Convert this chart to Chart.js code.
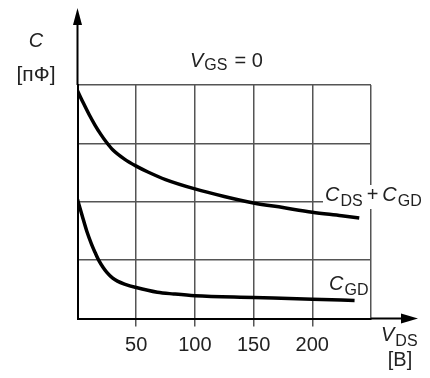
<!DOCTYPE html>
<html>
<head>
<meta charset="utf-8">
<script src="https://cdn.jsdelivr.net/npm/chart.js@4.4.0/dist/chart.umd.min.js"></script>
<style>
  html, body { margin: 0; padding: 0; background: #fff; }
  #wrap { width: 430px; height: 378px; }
</style>
</head>
<body>
<div id="wrap"><canvas id="chart" width="430" height="378"></canvas></div>
<script>
// V_DS, volts (upper curve: C_DS + C_GD)
const vdsTotal = [0, 5, 10, 15, 20, 25, 30, 40, 50, 60, 75, 100, 125, 150, 175, 200, 225, 240]
const cTotal = [3.90, 3.69, 3.49, 3.31, 3.15, 3.01, 2.89, 2.73, 2.61, 2.51, 2.38, 2.22, 2.09, 1.98, 1.90, 1.82, 1.76, 1.72]

// lower curve: C_GD
const vdsGd = [0, 4, 8, 12, 15, 18, 22, 25, 30, 34, 40, 50, 68, 82, 100, 150, 200, 236]
const cGd = [2.04, 1.76, 1.49, 1.27, 1.13, 1.00, 0.87, 0.79, 0.69, 0.64, 0.59, 0.53, 0.45, 0.42, 0.39, 0.36, 0.33, 0.31]

const xTicks = [50, 100, 150, 200]

const toPoints = (xs, ys) => xs.map((x, i) => ({ x, y: ys[i] }))

const GRID = '#555'
const TEXT = '#222'
const FONT = '"Liberation Sans", Arial, sans-serif'

function label(ctx, s, x, y, size, italic) {
  ctx.font = (italic ? 'italic ' : '') + size + 'px ' + FONT
  ctx.fillText(s, x, y)
  return x + ctx.measureText(s).width
}

const decor = {
  id: 'decor',
  afterDraw(chart) {
    const { ctx, chartArea: a } = chart
    ctx.save()
    ctx.strokeStyle = '#000'
    ctx.fillStyle = '#000'
    ctx.lineWidth = 2

    // axis arrows
    ctx.beginPath()
    ctx.moveTo(a.left, a.top)
    ctx.lineTo(a.left, 20)
    ctx.moveTo(a.right, a.bottom)
    ctx.lineTo(405, a.bottom)
    ctx.stroke()
    ctx.beginPath()
    ctx.moveTo(a.left, 8)
    ctx.lineTo(a.left - 4.5, 25)
    ctx.lineTo(a.left + 4.5, 25)
    ctx.closePath()
    ctx.fill()
    ctx.beginPath()
    ctx.moveTo(418, a.bottom)
    ctx.lineTo(401, a.bottom - 5)
    ctx.lineTo(401, a.bottom + 5)
    ctx.closePath()
    ctx.fill()

    // white box behind the upper curve label
    ctx.fillStyle = '#fff'
    ctx.fillRect(323, 185, 107, 24)

    ctx.fillStyle = TEXT
    ctx.textBaseline = 'alphabetic'

    // axis titles
    ctx.textAlign = 'center'
    label(ctx, 'C', 36, 47, 20, true)
    label(ctx, '[пФ]', 36, 81, 21, false)
    label(ctx, '[B]', 400, 366, 20, false)
    ctx.textAlign = 'left'

    // V_GS = 0
    let x = label(ctx, 'V', 190, 67, 20, true)
    x = label(ctx, 'GS', x + 1, 70, 16, false)
    label(ctx, '= 0', x + 7, 67, 20, false)

    // C_DS + C_GD
    x = label(ctx, 'C', 325, 201, 20, true)
    x = label(ctx, 'DS', x + 1, 206, 16, false)
    x = label(ctx, '+', x + 4, 201, 20, false)
    x = label(ctx, 'C', x + 4, 201, 20, true)
    label(ctx, 'GD', x + 1, 206, 16, false)

    // C_GD
    x = label(ctx, 'C', 329, 290, 20, true)
    label(ctx, 'GD', x + 1, 295, 16, false)

    // V_DS
    x = label(ctx, 'V', 381, 341, 20, true)
    label(ctx, 'DS', x + 1, 346, 16, false)

    ctx.restore()
  }
}

new Chart(document.getElementById('chart'), {
  type: 'line',
  data: {
    datasets: [
      { data: toPoints(vdsTotal, cTotal) },
      { data: toPoints(vdsGd, cGd) }
    ]
  },
  options: {
    responsive: false,
    animation: false,
    events: [],
    layout: { padding: { top: 85, right: 59, left: 0, bottom: 0 } },
    elements: {
      line: { borderColor: '#000', borderWidth: 3.5, cubicInterpolationMode: 'monotone', fill: false },
      point: { radius: 0 }
    },
    plugins: { legend: { display: false }, tooltip: { enabled: false } },
    scales: {
      x: {
        type: 'linear',
        min: 0,
        max: 250,
        afterFit: s => { s.height = 59.5 },
        ticks: {
          stepSize: 50,
          autoSkip: false,
          maxRotation: 0,
          padding: 7,
          color: TEXT,
          font: { family: FONT, size: 20 },
          callback: v => xTicks.includes(v) ? v : ''
        },
        grid: {
          color: c => c.tick.value === 0 ? 'transparent' : GRID,
          lineWidth: 1.5,
          tickLength: 8,
          tickColor: c => xTicks.includes(c.tick.value) ? GRID : 'transparent'
        },
        border: { color: '#000', width: 2 }
      },
      y: {
        min: 0,
        max: 4,
        afterFit: s => { s.width = 77.5 },
        ticks: { display: false, stepSize: 1 },
        grid: {
          color: c => c.tick.value === 0 ? 'transparent' : GRID,
          lineWidth: 1.5,
          drawTicks: false
        },
        border: { color: '#000', width: 2 }
      }
    }
  },
  plugins: [decor]
})
</script>
</body>
</html>
